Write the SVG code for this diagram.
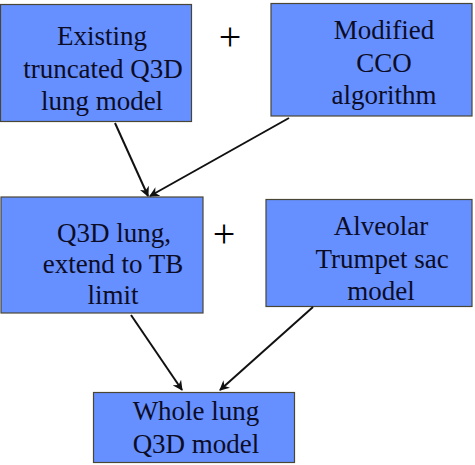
<svg xmlns="http://www.w3.org/2000/svg" width="475" height="465" viewBox="0 0 475 465">
<defs>
<marker id="ah" viewBox="0 0 10 10" refX="9" refY="5" markerWidth="5" markerHeight="5" orient="auto" markerUnits="strokeWidth">
<path d="M0,0 L10,5 L0,10 L3,5 Z" fill="#111"/>
</marker>
</defs>
<g id="nodes" font-family="Liberation Serif" font-size="27" text-anchor="middle">
<g fill="#6690FF" stroke="#4a4636" stroke-width="1.2">
<rect id="r1" x="0.5" y="4.5" width="191" height="117"/>
<rect id="r2" x="271" y="3.5" width="201" height="112.5"/>
<rect id="r3" x="1" y="197" width="202" height="116"/>
<rect id="r4" x="266" y="199.5" width="206" height="107"/>
<rect id="r5" x="93.5" y="392.5" width="201" height="70"/>
</g>
<g fill="#0c0c26">
<g id="n1"><text x="102" y="45">Existing</text><text x="103" y="78">truncated Q3D</text><text x="102" y="110">lung model</text></g>
<g id="n2"><text x="384" y="39">Modified</text><text x="384" y="72">CCO</text><text x="384" y="104">algorithm</text></g>
<g id="n3"><text x="114" y="242">Q3D lung,</text><text x="113" y="273">extend to TB</text><text x="113" y="304">limit</text></g>
<g id="n4"><text x="381" y="235">Alveolar</text><text x="382" y="268">Trumpet sac</text><text x="381" y="300">model</text></g>
<g id="n5"><text x="196" y="420">Whole lung</text><text x="196" y="453">Q3D model</text></g>
</g>
<g id="plus" font-size="40" fill="#000"><text x="230" y="50">+</text><text x="224" y="247">+</text></g>
</g>
<g id="connectors" stroke="#111" stroke-width="2" fill="none" marker-end="url(#ah)">
<line x1="115" y1="123" x2="148" y2="196"/>
<line x1="289" y1="118" x2="150" y2="196"/>
<line x1="131" y1="315" x2="182" y2="390"/>
<line x1="313" y1="307" x2="220" y2="390"/>
</g>
</svg>
